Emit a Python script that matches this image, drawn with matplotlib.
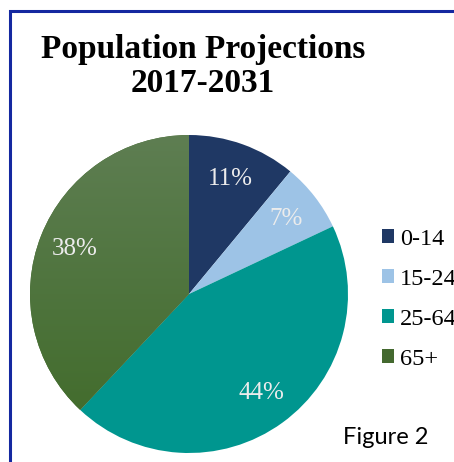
import matplotlib.pyplot as plt
import numpy as np
from matplotlib.patches import Rectangle
from matplotlib.colors import LinearSegmentedColormap

# data
age_groups = ["0-14", "15-24", "25-64", "65+"]
shares = [11, 7, 44, 38]
colors = ["#1f3864", "#9dc3e6", "#00968f", "#44692f"]

title = "Population Projections\n2017-2031"

fig = plt.figure(figsize=(4.54, 4.62), dpi=100)
W, H = 454, 462

# blue frame, cut off on the right and bottom like the screenshot
fig.patches.append(Rectangle((10 / W, -0.1), 1.2, (H - 11) / H + 0.1,
                             transform=fig.transFigure, fill=False,
                             edgecolor="#1428a0", linewidth=2.2))

fig.text(203 / W, 1 - 92 / H, title, ha="center", va="baseline",
         multialignment="center", family="Liberation Serif", weight="bold",
         fontsize=24, linespacing=1.12)

# pie centred at (189, 294) px with radius ~159 px
ax = fig.add_axes([30 / W, (H - 453) / H, 318 / W, 318 / H])
wedges, texts, autotexts = ax.pie(
    shares, colors=colors, startangle=90, counterclock=False,
    autopct="%.0f%%", pctdistance=0.77,
    textprops=dict(color="#ececec", family="Liberation Serif", fontsize=18))
ax.set_xlim(-1, 1)
ax.set_ylim(-1, 1)
ax.set_aspect("equal")
ax.axis("off")

# soft vertical gradient on the 65+ slice
grad = np.linspace(0, 1, 256).reshape(-1, 1)
cm = LinearSegmentedColormap.from_list("g", ["#3f6a28", "#5e7e52"])
im = ax.imshow(grad, cmap=cm, extent=(-1, 1, -1, 1), origin="lower",
               zorder=wedges[3].get_zorder(), aspect="auto")
im.set_clip_path(wedges[3])
for t in autotexts:
    t.set_zorder(5)

# legend runs off the right edge, as in the screenshot
fig.legend(wedges, age_groups, loc="upper left",
           bbox_to_anchor=(382 / W, 1 - 229 / H), frameon=False,
           prop=dict(family="Liberation Serif", size=17.5),
           handlelength=0.5, handleheight=0.5, handletextpad=0.25,
           labelspacing=0.78, borderpad=0, borderaxespad=0)

fig.text(343 / W, 1 - 437 / H, "Figure 2", ha="left", va="center",
         family="Lato", fontsize=17)

fig.savefig("out.png", dpi=100)
